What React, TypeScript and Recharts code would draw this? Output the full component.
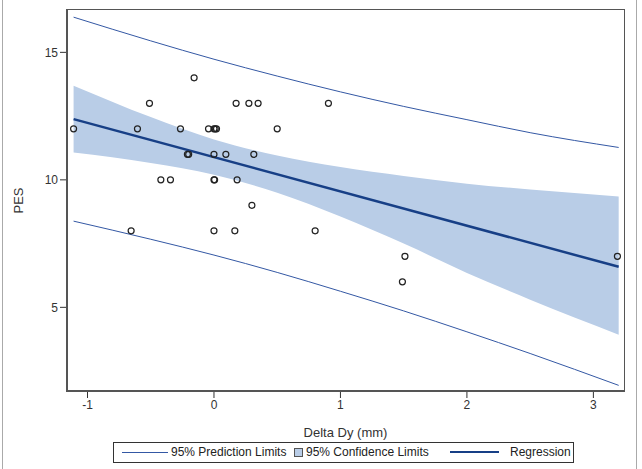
import React from 'react'
import {
  ComposedChart, Line, Area, Scatter, XAxis, YAxis
} from 'recharts'

// curve sample positions
const CURVE_X = [-1.11, -0.5, 0, 0.5, 1, 1.5, 2, 2.5, 3.2]
const PRED_UPPER = [16.38, 15.45, 14.73, 14.07, 13.45, 12.88, 12.36, 11.85, 11.27]
const PRED_LOWER = [8.38, 7.67, 7.05, 6.37, 5.63, 4.86, 4.04, 3.19, 1.94]
const CONF_UPPER = [13.69, 12.46, 11.58, 10.95, 10.5, 10.15, 9.85, 9.62, 9.35]
const CONF_LOWER = [11.07, 10.66, 10.2, 9.49, 8.56, 7.5, 6.35, 5.3, 3.93]

const REG_X = [-1.11, 3.2]
const REG_Y = [12.38, 6.59]

// observed points
const POINT_X = [
  -0.157, -0.51, 0.175, 0.276, 0.349, 0.905,
  -1.11, -0.605, -0.265, -0.043, 0, 0.01, 0.02, 0.5,
  -0.2, -0.21, 0, 0.094, 0.315,
  -0.42, -0.344, 0, 0.005, 0.183,
  0.3,
  -0.655, 0, 0.165, 0.8,
  1.51, 3.19,
  1.49,
]
const POINT_Y = [
  14, 13, 13, 13, 13, 13,
  12, 12, 12, 12, 12, 12, 12, 12,
  11, 11, 11, 11, 11,
  10, 10, 10, 10, 10,
  9,
  8, 8, 8, 8,
  7, 7,
  6,
]

const X_TICKS = [-1, 0, 1, 2, 3]
const Y_TICKS = [5, 10, 15]

const curveData = CURVE_X.map((x, i) => ({
  x,
  predUpper: PRED_UPPER[i],
  predLower: PRED_LOWER[i],
  conf: [CONF_LOWER[i], CONF_UPPER[i]],
}))
const regData = REG_X.map((x, i) => ({ x, y: REG_Y[i] }))
const pointData = POINT_X.map((x, i) => ({ x, y: POINT_Y[i] }))

const FONT = '"Liberation Sans", Arial, sans-serif'
const PRED_COLOR = '#3458a4'
const REG_COLOR = '#173f86'
const BAND_COLOR = '#b9cde7'
const tickStyle = { fontSize: 12, fill: '#333', fontFamily: FONT }

const Ring = (props: any) => (
  <circle cx={props.cx} cy={props.cy} r={3} fill="none" stroke="#222" strokeWidth={1.2} />
)

export default function App() {
  return (
    <div style={{ position: 'absolute', left: 0, top: 0, width: 642, height: 469, background: '#fff', fontFamily: FONT }}>
      {/* outer image border */}
      <div style={{ position: 'absolute', left: 2, top: 0, width: 635, height: 469, borderLeft: '1px solid #aaa', borderRight: '1px solid #aaa', boxSizing: 'border-box' }} />

      <ComposedChart
        width={642}
        height={469}
        data={curveData}
        margin={{ top: 9, right: 17, left: 0, bottom: 0 }}
        style={{ position: 'absolute', left: 0, top: 0 }}
      >
        <XAxis
          type="number"
          dataKey="x"
          domain={[-1.17, 3.25]}
          ticks={X_TICKS}
          allowDataOverflow
          height={77}
          axisLine={false}
          tickSize={6}
          tickLine={{ stroke: '#333' }}
          tick={tickStyle}
          label={{ value: 'Delta Dy (mm)', position: 'insideBottom', offset: 32, style: { fontSize: 13, fill: '#333', fontFamily: FONT } }}
        />
        <YAxis
          type="number"
          domain={[1.68, 16.7]}
          ticks={Y_TICKS}
          allowDataOverflow
          width={66}
          axisLine={false}
          tickSize={6}
          tickLine={{ stroke: '#333' }}
          tick={tickStyle}
          label={{ value: 'PES', angle: -90, position: 'insideLeft', offset: 18, style: { fontSize: 13, fill: '#333', fontFamily: FONT, textAnchor: 'middle' } }}
        />
        <Area
          type="monotone"
          dataKey="conf"
          fill={BAND_COLOR}
          fillOpacity={1}
          stroke="none"
          isAnimationActive={false}
        />
        <Line type="monotone" dataKey="predUpper" stroke={PRED_COLOR} strokeWidth={1} dot={false} isAnimationActive={false} />
        <Line type="monotone" dataKey="predLower" stroke={PRED_COLOR} strokeWidth={1} dot={false} isAnimationActive={false} />
        <Line data={regData} dataKey="y" stroke={REG_COLOR} strokeWidth={2.5} dot={false} isAnimationActive={false} />
        <Scatter data={pointData} dataKey="y" shape={Ring} isAnimationActive={false} />
      </ComposedChart>

      {/* plot frame */}
      <div style={{ position: 'absolute', left: 66, top: 9, width: 559, height: 383, border: '1px solid #555', borderLeftWidth: 2, borderBottomWidth: 2, boxSizing: 'border-box', pointerEvents: 'none' }} />

      {/* legend */}
      <div style={{ position: 'absolute', left: 113, top: 442, width: 461, height: 21, border: '1px solid #333', boxSizing: 'border-box', fontSize: 12, color: '#222' }}>
        <div style={{ position: 'absolute', left: 8, top: 9, width: 46, height: 0, borderTop: `1px solid ${PRED_COLOR}` }} />
        <div style={{ position: 'absolute', left: 57, top: 2, whiteSpace: 'nowrap' }}>95% Prediction Limits</div>
        <div style={{ position: 'absolute', left: 180, top: 5, width: 9, height: 9, background: BAND_COLOR, border: '1px solid #555', boxSizing: 'border-box' }} />
        <div style={{ position: 'absolute', left: 192, top: 2, whiteSpace: 'nowrap' }}>95% Confidence Limits</div>
        <div style={{ position: 'absolute', left: 336, top: 8, width: 49, height: 0, borderTop: `2.5px solid ${REG_COLOR}` }} />
        <div style={{ position: 'absolute', left: 396, top: 2, whiteSpace: 'nowrap' }}>Regression</div>
      </div>
    </div>
  )
}
